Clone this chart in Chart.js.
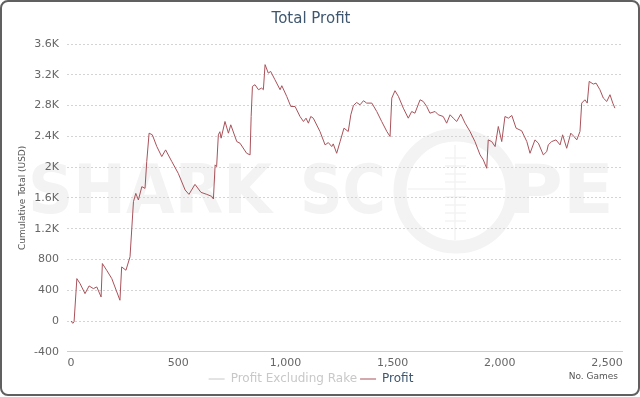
<!DOCTYPE html>
<html>
<head>
<meta charset="utf-8">
<script src="https://cdn.jsdelivr.net/npm/chart.js@4.4.1/dist/chart.umd.min.js"></script>
<style>
  html, body { margin: 0; padding: 0; background: #fff; }
  #wrap { position: relative; width: 640px; height: 397px; }
  #frame { position: absolute; left: 0; top: 0; width: 636px; height: 392px;
           border: 2px solid #606060; border-radius: 8px; pointer-events: none; }
  canvas { position: absolute; left: 0; top: 0; }
</style>
</head>
<body>
<div id="wrap">
  <canvas id="profitChart" width="640" height="397"></canvas>
  <div id="frame"></div>
</div>
<script>
// number of games played vs cumulative profit (USD)
const games = [
  0, 8, 14, 27, 42, 65, 84, 104, 120, 140,
  146, 166, 190, 228, 236, 256, 275, 291, 302, 314,
  330, 345, 353, 364, 379, 400, 423, 441, 470, 500,
  532, 550, 578, 606, 633, 656, 664, 672, 679, 687,
  694, 700, 718, 734, 745, 773, 788, 819, 835, 840,
  846, 858, 874, 889, 897, 905, 920, 931, 951, 975,
  983, 1006, 1025, 1045, 1068, 1084, 1096, 1107, 1118, 1130,
  1161, 1185, 1200, 1216, 1223, 1239, 1255, 1273, 1293, 1305,
  1317, 1332, 1348, 1364, 1379, 1403, 1426, 1449, 1473, 1488,
  1496, 1511, 1527, 1550, 1573, 1589, 1604, 1628, 1643, 1659,
  1674, 1698, 1713, 1736, 1752, 1768, 1783, 1799, 1818, 1838,
  1861, 1884, 1908, 1923, 1939, 1946, 1962, 1978, 1993, 2009,
  2024, 2040, 2056, 2076, 2102, 2126, 2141, 2164, 2180, 2203,
  2219, 2226, 2242, 2262, 2281, 2293, 2312, 2331, 2346, 2359,
  2374, 2382, 2397, 2408, 2417, 2436, 2449, 2467, 2483, 2499,
  2514, 2527, 2537
];
const profit = [
  0, -30, -10, 551, 486, 356, 456, 421, 443, 313,
  747, 660, 551, 270, 703, 660, 834, 1551, 1659, 1573,
  1746, 1724, 2072, 2441, 2420, 2267, 2137, 2224, 2072, 1919,
  1703, 1646, 1776, 1672, 1646, 1620, 1586, 2029, 2007, 2420,
  2460, 2376, 2593, 2441, 2550, 2332, 2311, 2180, 2159, 2658,
  3049, 3071, 3006, 3027, 3006, 3332, 3222, 3244, 3136, 3006,
  3058, 2919, 2788, 2788, 2658, 2593, 2636, 2571, 2658, 2636,
  2463, 2289, 2319, 2267, 2302, 2180, 2332, 2506, 2463, 2680,
  2800, 2840, 2810, 2863, 2832, 2832, 2723, 2593, 2463, 2398,
  2897, 2993, 2919, 2766, 2636, 2723, 2701, 2875, 2853, 2788,
  2701, 2723, 2680, 2658, 2571, 2680, 2636, 2593, 2689, 2571,
  2463, 2332, 2159, 2094, 1985, 2354, 2332, 2267, 2528, 2332,
  2658, 2636, 2671, 2506, 2472, 2332, 2180, 2354, 2311, 2159,
  2202, 2289, 2332, 2354, 2289, 2420, 2245, 2441, 2398, 2354,
  2463, 2832, 2875, 2832, 3114, 3079, 3092, 3006, 2897, 2853,
  2941, 2832, 2766
];
const xTicks = [0, 500, 1000, 1500, 2000, 2500];
const yTicks = [-400, 0, 400, 800, 1200, 1600, 2000, 2400, 2800, 3200, 3600];
const seriesNames = ['Profit Excluding Rake', 'Profit'];

const FONT = "'DejaVu Sans', sans-serif";

const kLabel = v => Math.abs(v) >= 1000 ? (v / 1000) + 'K' : String(v);

// faint SHARK SCOPE watermark + "No. Games" caption
const extras = {
  id: 'extras',
  beforeDraw(chart) {
    const ctx = chart.ctx;
    ctx.save();
    ctx.fillStyle = '#f3f3f3';
    ctx.strokeStyle = '#f3f3f3';
    ctx.font = 'bold 68px ' + FONT;
    ctx.textBaseline = 'alphabetic';
    const word = (txt, x0, x1) => {
      const w = ctx.measureText(txt).width;
      ctx.save();
      ctx.translate(x0, 213);
      ctx.scale((x1 - x0) / w, 1);
      ctx.fillText(txt, 0, 0);
      ctx.restore();
    };
    word('SHARK', 28, 272);
    word('SC', 300, 386);
    word('PE', 508, 614);
    ctx.lineWidth = 13;
    ctx.beginPath();
    ctx.arc(456, 191, 56, 0, Math.PI * 2);
    ctx.stroke();
    ctx.lineWidth = 1.5;
    ctx.beginPath();
    ctx.moveTo(455, 145); ctx.lineTo(455, 240);
    ctx.moveTo(408, 189); ctx.lineTo(503, 189);
    [158, 166, 174, 182, 197, 205, 213, 221].forEach(y => {
      ctx.moveTo(445, y); ctx.lineTo(466, y);
    });
    ctx.stroke();
    ctx.restore();
  },
  afterDraw(chart) {
    const ctx = chart.ctx;
    ctx.save();
    ctx.fillStyle = '#555';
    ctx.font = '9px ' + FONT;
    ctx.textAlign = 'right';
    ctx.textBaseline = 'middle';
    ctx.fillText('No. Games', 618, 377);
    ctx.restore();
  }
};

new Chart(document.getElementById('profitChart'), {
  type: 'line',
  data: {
    datasets: [
      {
        label: seriesNames[0],
        data: [],
        borderColor: '#cccccc',
        borderWidth: 1,
        pointRadius: 0
      },
      {
        label: seriesNames[1],
        data: games.map((g, i) => ({ x: g, y: profit[i] })),
        borderColor: '#a9525a',
        borderWidth: 1,
        pointRadius: 0,
        tension: 0
      }
    ]
  },
  options: {
    responsive: false,
    animation: false,
    layout: { padding: { top: 0, right: 18, bottom: 2, left: 0 } },
    plugins: {
      title: {
        display: true,
        text: 'Total Profit',
        color: '#3e576f',
        font: { family: FONT, size: 15, weight: 'normal' },
        padding: { top: 10, bottom: 16 }
      },
      legend: {
        position: 'bottom',
        labels: {
          font: { family: FONT, size: 12 },
          usePointStyle: true,
          pointStyle: 'line',
          pointStyleWidth: 16,
          boxHeight: 8,
          padding: 3,
          generateLabels: () => [
            { text: seriesNames[0], fontColor: '#c8c8c8', strokeStyle: '#c8c8c8', lineWidth: 1, pointStyle: 'line', datasetIndex: 0 },
            { text: seriesNames[1], fontColor: '#3e576f', strokeStyle: '#a9525a', lineWidth: 1, pointStyle: 'line', datasetIndex: 1 }
          ]
        }
      },
      tooltip: { enabled: false }
    },
    scales: {
      x: {
        type: 'linear',
        min: -19,
        max: 2570,
        afterBuildTicks: axis => { axis.ticks = xTicks.map(v => ({ value: v })); },
        grid: { display: false, drawTicks: true, tickLength: 5, tickColor: '#c0d0e0' },
        border: { display: true, color: '#c0d0e0' },
        ticks: {
          color: '#666',
          font: { family: FONT, size: 11 },
          maxRotation: 0,
          padding: 0,
          callback: v => v.toLocaleString('en-US')
        }
      },
      y: {
        min: -400,
        max: 3600,
        afterBuildTicks: axis => { axis.ticks = yTicks.map(v => ({ value: v })); },
        afterFit: axis => { axis.width = 67; },
        grid: { color: '#d4d4d4', drawTicks: false },
        border: { display: false, dash: [2, 2] },
        ticks: {
          color: '#666',
          font: { family: FONT, size: 11 },
          padding: 8,
          callback: v => kLabel(v)
        },
        title: {
          display: true,
          text: 'Cumulative Total (USD)',
          color: '#555',
          font: { family: FONT, size: 9 },
          padding: { top: 17, bottom: 0 }
        }
      }
    }
  },
  plugins: [extras]
});
</script>
</body>
</html>
